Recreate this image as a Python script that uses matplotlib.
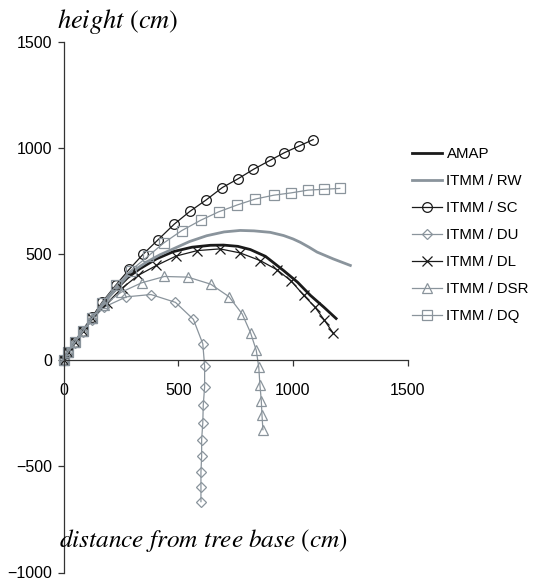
import matplotlib.pyplot as plt

plt.rcParams['font.family'] = ['Liberation Sans', 'DejaVu Sans']
plt.rcParams['mathtext.fontset'] = 'stix'

# curves (distance cm, height cm)
amap_x = [0, 50, 125, 200, 280, 332, 405, 478, 560, 640, 697, 760, 814, 880, 959, 1020, 1076, 1135, 1188]
amap_y = [0, 85, 200, 305, 390, 431, 478, 512, 533, 542, 543, 537, 522, 490, 423, 368, 306, 250, 197]

rw_x = [0, 50, 125, 200, 289, 362, 420, 478, 550, 624, 700, 770, 830, 901, 959, 1000, 1032, 1070, 1105, 1175, 1250]
rw_y = [0, 85, 200, 300, 410, 463, 497, 525, 560, 587, 605, 612, 610, 603, 588, 572, 556, 533, 510, 478, 447]

sc_x = [0, 20, 50, 85, 125, 169, 227, 286, 347, 413, 483, 551, 622, 692, 760, 828, 898, 962, 1025, 1088]
sc_y = [0, 40, 85, 137, 205, 275, 353, 428, 500, 569, 642, 702, 756, 814, 855, 900, 941, 978, 1009, 1040]

du_x = [0, 20, 50, 85, 125, 175, 274, 381, 488, 566, 607, 615, 615, 609, 607, 602, 602, 599, 599, 599]
du_y = [0, 38, 82, 135, 190, 250, 299, 310, 273, 193, 78, -27, -125, -212, -295, -374, -451, -527, -597, -666]

dl_x = [0, 20, 50, 85, 125, 190, 255, 325, 405, 490, 583, 682, 770, 857, 930, 992, 1047, 1095, 1137, 1174]
dl_y = [0, 40, 85, 137, 200, 270, 340, 400, 447, 491, 517, 525, 506, 470, 427, 374, 306, 252, 189, 130]

dsr_x = [0, 20, 50, 85, 125, 175, 250, 340, 440, 542, 641, 721, 779, 815, 840, 851, 856, 862, 865, 869]
dsr_y = [0, 40, 85, 137, 198, 260, 320, 365, 395, 392, 359, 300, 218, 130, 47, -33, -116, -191, -259, -327]

dq_x = [0, 20, 50, 85, 125, 169, 230, 293, 369, 437, 515, 598, 677, 757, 836, 916, 992, 1066, 1137, 1204]
dq_y = [0, 40, 85, 137, 200, 272, 353, 423, 491, 553, 611, 660, 700, 732, 760, 778, 789, 802, 806, 810]

black = '#1a1a1a'
grey = '#8a949c'

fig = plt.figure(figsize=(5.47, 5.85), dpi=100)
ax = fig.add_axes([63.5 / 547, 12.5 / 585, 344.2 / 547, 530.5 / 585])

ax.plot(amap_x, amap_y, color=black, lw=2.0, label='AMAP', clip_on=False)
ax.plot(rw_x, rw_y, color=grey, lw=2.0, label='ITMM / RW', clip_on=False)
ax.plot(sc_x, sc_y, color=black, lw=0.9, marker='o', ms=7, mfc='none', mew=0.9,
        label='ITMM / SC', clip_on=False)
ax.plot(du_x, du_y, color=grey, lw=0.9, marker='D', ms=5, mfc='none', mew=0.9,
        label='ITMM / DU', clip_on=False)
ax.plot(dl_x, dl_y, color=black, lw=0.9, marker='x', ms=7, mew=0.9,
        label='ITMM / DL', clip_on=False)
ax.plot(dsr_x, dsr_y, color=grey, lw=0.9, marker='^', ms=7, mfc='none', mew=0.9,
        label='ITMM / DSR', clip_on=False)
ax.plot(dq_x, dq_y, color=grey, lw=0.9, marker='s', ms=6.5, mfc='none', mew=0.9,
        label='ITMM / DQ', clip_on=False)

ax.set_xlim(0, 1500)
ax.set_ylim(-1000, 1500)
ax.set_xticks([0, 500, 1000, 1500])
ax.set_yticks([-1000, -500, 0, 500, 1000, 1500])
ax.spines['top'].set_visible(False)
ax.spines['right'].set_visible(False)
ax.spines['bottom'].set_position(('data', 0))
for s in ['left', 'bottom']:
    ax.spines[s].set_color('#333333')
    ax.spines[s].set_linewidth(0.9)
ax.tick_params(direction='out', length=4, width=0.9, color='#333333',
               labelsize=11.5, pad=4)
ax.tick_params(axis='x', pad=12)

fig.text(57 / 547, 1 - 22 / 585, r'$\mathit{height}\ (\mathit{cm})$',
         fontsize=19, va='center', ha='left')
fig.text(59 / 547, 1 - 540 / 585, r'$\mathit{distance\ from\ tree\ base}\ (\mathit{cm})$',
         fontsize=18.2, va='center', ha='left')

fig.legend(loc='upper left', bbox_to_anchor=(406 / 547, 1 - 141 / 585),
           frameon=False, fontsize=10.8, handlelength=2.0, handletextpad=0.3,
           labelspacing=0.87, borderaxespad=0)

fig.savefig('out.png', dpi=100)
